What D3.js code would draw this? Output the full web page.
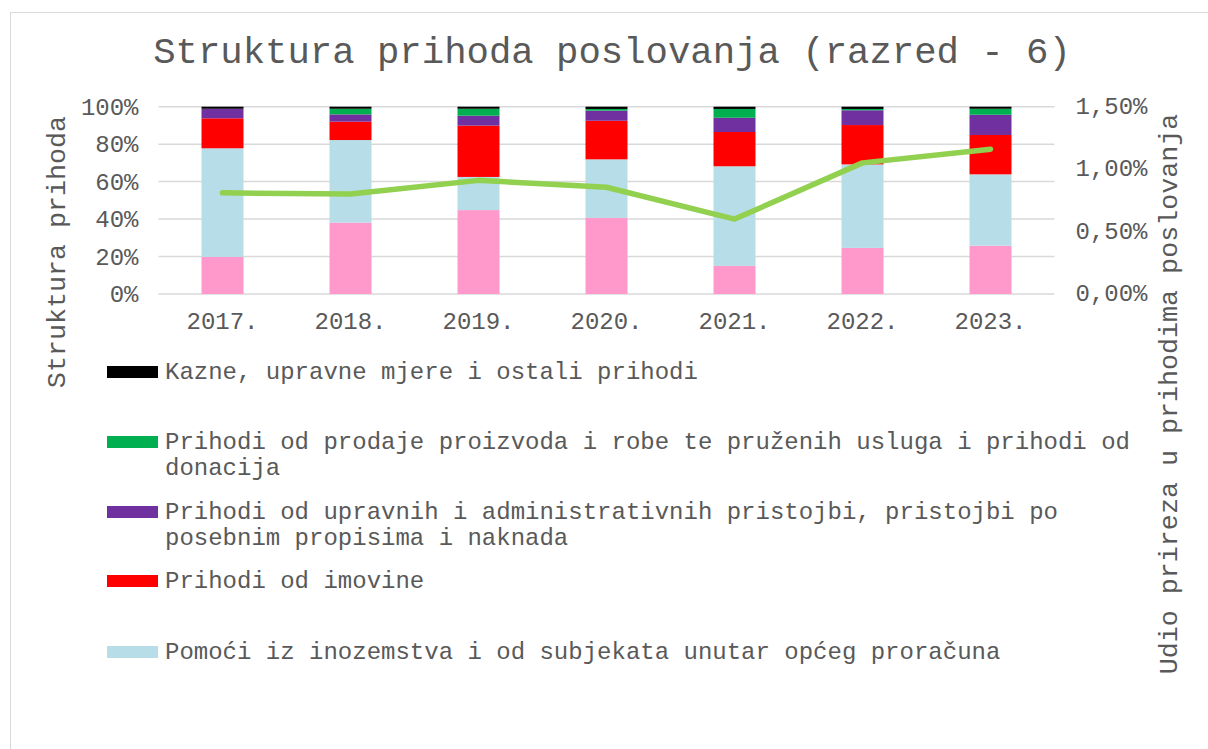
<!DOCTYPE html>
<html>
<head>
<meta charset="utf-8">
<script src="https://cdn.jsdelivr.net/npm/d3@7"></script>
<style>
  html, body { margin: 0; padding: 0; background: #fff; }
  svg { display: block; }
  text { font-family: "Liberation Mono", "DejaVu Sans Mono", monospace; fill: #595959; }
</style>
</head>
<body>
<svg id="chart" width="1208" height="749"></svg>
<script>
// ---- Data ----
const years = ["2017.", "2018.", "2019.", "2020.", "2021.", "2022.", "2023."];

const porez      = [19.8, 38.1, 44.8, 40.6, 15.0, 24.6, 25.8]; // Prihodi od poreza (legend entry cut off)
const pomoci     = [58.0, 44.1, 17.7, 31.3, 53.2, 44.6, 38.1];
const imovina    = [16.0,  9.8, 27.4, 20.6, 18.3, 21.0, 21.0];
const upravne    = [ 5.1,  3.9,  5.3,  5.4,  7.6,  7.9, 10.8];
const prodaja    = [ 0.0,  3.0,  3.7,  0.9,  4.7,  0.7,  3.2];
const kazne      = [ 1.1,  1.1,  1.1,  1.2,  1.2,  1.2,  1.1];

const udioPrireza = [0.81, 0.80, 0.91, 0.855, 0.60, 1.05, 1.16];

const leftTicks  = [0, 20, 40, 60, 80, 100];
const rightTicks = [0, 0.5, 1.0, 1.5];

const seriesNames = [
  "Prihodi od poreza",
  "Pomoći iz inozemstva i od subjekata unutar općeg proračuna",
  "Prihodi od imovine",
  "Prihodi od upravnih i administrativnih pristojbi, pristojbi po posebnim propisima i naknada",
  "Prihodi od prodaje proizvoda i robe te pruženih usluga i prihodi od donacija",
  "Kazne, upravne mjere i ostali prihodi"
];
const seriesColors = ["#FF99CC", "#B7DDE8", "#FF0000", "#7030A0", "#00B050", "#000000"];
const seriesValues = [porez, pomoci, imovina, upravne, prodaja, kazne];

// legend entries shown (top to bottom), with wrapped lines
const legendEntries = [
  { idx: 5, lines: ["Kazne, upravne mjere i ostali prihodi"] },
  { idx: 4, lines: ["Prihodi od prodaje proizvoda i robe te pruženih usluga i prihodi od", "donacija"] },
  { idx: 3, lines: ["Prihodi od upravnih i administrativnih pristojbi, pristojbi po", "posebnim propisima i naknada"] },
  { idx: 2, lines: ["Prihodi od imovine"] },
  { idx: 1, lines: ["Pomoći iz inozemstva i od subjekata unutar općeg proračuna"] }
];
const legendY = [372, 442, 512, 581, 652];

// ---- Build table ----
const keys = seriesNames.map((d, i) => "s" + i);
const table = years.map((y, j) => {
  const row = { year: y };
  keys.forEach((k, i) => row[k] = seriesValues[i][j]);
  return row;
});

// ---- Layout ----
const svg = d3.select("#chart");
const plot = { left: 158.5, right: 1054.5, top: 106.7, bottom: 294 };

svg.append("rect")
  .attr("x", 10.5).attr("y", 12.5).attr("width", 1210).attr("height", 760)
  .attr("fill", "#fff").attr("stroke", "#D9D9D9").attr("stroke-width", 1);

const x = d3.scaleBand().domain(years).range([plot.left, plot.right])
  .paddingInner(0.672).paddingOuter(0.336);
const y = d3.scaleLinear().domain([0, 100]).range([plot.bottom, plot.top]);
const y2 = d3.scaleLinear().domain([0, 1.5]).range([plot.bottom, plot.top]);

// gridlines
svg.append("g").selectAll("line").data(leftTicks).join("line")
  .attr("x1", plot.left).attr("x2", plot.right)
  .attr("y1", d => y(d)).attr("y2", d => y(d))
  .attr("stroke", "#D9D9D9").attr("stroke-width", 1.5);

// stacked bars
const stack = d3.stack().keys(keys)(table);
svg.append("g").selectAll("g").data(stack).join("g")
  .attr("fill", (d, i) => seriesColors[i])
  .selectAll("rect").data(d => d).join("rect")
  .attr("x", d => x(d.data.year))
  .attr("width", x.bandwidth())
  .attr("y", d => y(d[1]))
  .attr("height", d => Math.max(0, y(d[0]) - y(d[1])));

// line
const line = d3.line()
  .x((d, i) => x(years[i]) + x.bandwidth() / 2)
  .y(d => y2(d));
svg.append("path").datum(udioPrireza)
  .attr("d", line)
  .attr("fill", "none")
  .attr("stroke", "#92D050")
  .attr("stroke-width", 5.5)
  .attr("stroke-linecap", "round")
  .attr("stroke-linejoin", "round");

// left axis
const leftAxis = d3.axisLeft(y).tickValues(leftTicks).tickFormat(d => d + "%").tickSize(0).tickPadding(20);
const gl = svg.append("g").attr("transform", `translate(${plot.left},0)`).call(leftAxis);
gl.select(".domain").remove();
gl.selectAll("text").attr("font-size", 24).attr("font-family", "Liberation Mono").attr("fill", "#595959");

// right axis
const fmtR = d => d3.format(".2f")(d).replace(".", ",") + "%";
const rightAxis = d3.axisRight(y2).tickValues(rightTicks).tickFormat(fmtR).tickSize(0).tickPadding(21);
const gr = svg.append("g").attr("transform", `translate(${plot.right},-1)`).call(rightAxis);
gr.select(".domain").remove();
gr.selectAll("text").attr("font-size", 24).attr("font-family", "Liberation Mono").attr("fill", "#595959");

// bottom axis
const bottomAxis = d3.axisBottom(x).tickSize(0).tickPadding(18);
const gb = svg.append("g").attr("transform", `translate(0,${plot.bottom})`).call(bottomAxis);
gb.select(".domain").remove();
gb.selectAll("text").attr("font-size", 24).attr("font-family", "Liberation Mono").attr("fill", "#595959");

// title
svg.append("text")
  .attr("x", 612).attr("y", 63)
  .attr("text-anchor", "middle")
  .attr("font-size", 37.3)
  .text("Struktura prihoda poslovanja (razred - 6)");

// axis titles
svg.append("text")
  .attr("transform", "translate(65,252) rotate(-90)")
  .attr("text-anchor", "middle")
  .attr("font-size", 26.7)
  .text("Struktura prihoda");

svg.append("text")
  .attr("transform", "translate(1177,394) rotate(-90)")
  .attr("text-anchor", "middle")
  .attr("font-size", 26.7)
  .text("Udio prireza u prihodima poslovanja");

// legend
const lg = svg.append("g");
legendEntries.forEach((e, k) => {
  const cy = legendY[k];
  lg.append("rect")
    .attr("x", 107).attr("y", cy - 6).attr("width", 51).attr("height", 12)
    .attr("fill", seriesColors[e.idx]);
  e.lines.forEach((ln, li) => {
    lg.append("text")
      .attr("x", 165).attr("y", cy + li * 26)
      .attr("dominant-baseline", "central")
      .attr("font-size", 24)
      .text(ln);
  });
});
</script>
</body>
</html>
